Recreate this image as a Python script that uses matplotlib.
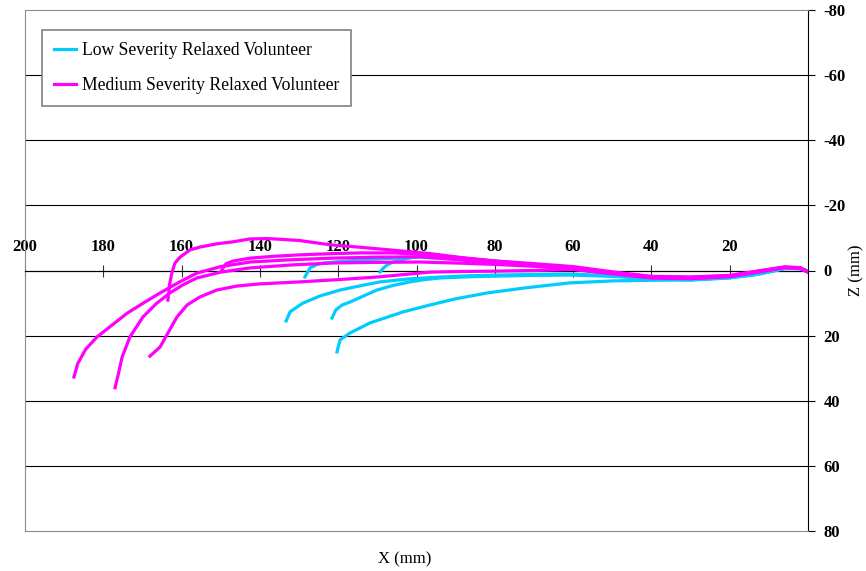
import matplotlib
matplotlib.use("Agg")
import matplotlib.pyplot as plt

plt.rcParams["font.family"] = ["Liberation Serif", "DejaVu Serif"]
plt.rcParams["axes.unicode_minus"] = False

# Head trajectories, X (mm) vs Z (mm)
# Low severity runs
low_1_x = [133.3, 132.3, 130.5, 129, 124.6, 119.5, 114, 109.3, 102, 94, 86, 78.7, 70, 60.8, 50, 40.4, 30, 20, 12, 6, 2, 0]
low_1_z = [15.5, 12.7, 11.2, 10, 7.8, 6, 4.6, 3.5, 2.6, 2.0, 1.6, 1.4, 1.2, 1.1, 1.6, 2.4, 2.7, 2.2, 0.9, -0.6, -0.6, 0.3]
low_2_x = [121.6, 120.6, 119, 117, 113.5, 110.1, 106, 101.7, 98, 94, 86, 78.7, 70, 60, 50, 40, 30, 20, 12, 6, 2, 0]
low_2_z = [14.6, 12.1, 10.6, 9.7, 7.8, 6, 4.6, 3.5, 2.8, 2.3, 1.9, 1.7, 1.5, 1.4, 1.8, 2.6, 2.9, 2.3, 1.0, -0.6, -0.6, 0.3]
low_3_x = [120.3, 119.9, 119.5, 117, 111.9, 103.4, 96.6, 90, 82, 72, 60.8, 50, 39.6, 30, 22.5, 14, 8, 5.4, 2, 0]
low_3_z = [25, 23, 21.3, 19.2, 16.1, 12.7, 10.6, 8.7, 6.9, 5.3, 3.8, 3.2, 3.0, 2.9, 2.4, 1.4, -0.2, -0.8, -0.6, 0.2]
low_4_x = [128.5, 127.8, 127.2, 125.5, 123.9, 119, 114.4, 107, 99.1, 90, 80.5, 70, 60, 50, 40, 30, 20, 12, 6, 2, 0]
low_4_z = [2, 0.5, -0.8, -1.8, -2.3, -2.8, -3.2, -3.7, -4.1, -3.5, -2.6, -1.6, -0.5, 1.0, 2.5, 2.8, 2.1, 0.8, -0.7, -0.6, 0.3]
low_5_x = [109.3, 108.5, 107.5, 106, 104.2, 100.5, 96.6, 90, 80.5, 70, 60, 50, 40, 30, 20, 12, 6, 2, 0]
low_5_z = [0.5, -0.7, -1.7, -2.6, -3.2, -4.2, -4.8, -4.0, -2.9, -1.8, -0.6, 0.9, 2.4, 2.7, 2.0, 0.7, -0.7, -0.6, 0.3]

# Medium severity runs
med_1_x = [187.5, 186.5, 184.5, 181.6, 177.5, 173.9, 169.5, 165.5, 160.5, 156.1, 150, 142.5, 132, 121.3, 110, 99.1, 90, 80.5, 70, 60, 50, 40, 30, 20, 12, 6, 2, 0]
med_1_z = [32.7, 28.5, 24.2, 20.4, 16.5, 13.1, 9.8, 6.9, 3.5, 0.8, -1.2, -2.6, -3.3, -3.8, -4.1, -4.2, -3.4, -2.4, -1.6, -0.7, 0.7, 1.9, 2.1, 1.6, 0.1, -1.0, -0.8, 0.4]
med_2_x = [177, 176, 175.2, 173.2, 169.9, 166.5, 163, 159.5, 156.1, 150, 142.5, 132, 121.3, 110, 99.1, 90, 80.5, 70, 60, 50, 40, 30, 20, 12, 6, 2, 0]
med_2_z = [36, 31, 26.6, 20.4, 14.3, 10.2, 6.9, 4.3, 2.3, 0.5, -0.8, -1.7, -2.3, -2.5, -2.6, -2.3, -1.9, -1.3, -0.4, 0.9, 2.2, 2.4, 1.9, 0.3, -0.9, -0.7, 0.5]
med_3_x = [168.1, 165.5, 163.5, 161.2, 158.6, 155.3, 151, 146, 140, 129.8, 120, 110, 96.6, 88, 80.5, 70, 60, 50, 40, 30, 20, 12, 6, 2, 0]
med_3_z = [26.3, 23.5, 19.2, 14.3, 10.6, 8.1, 6, 4.8, 4.1, 3.5, 2.8, 2.0, 0.5, 0.3, 0.2, 0, -0.3, 1.0, 2.3, 2.5, 1.8, 0.3, -0.9, -0.6, 0.5]
med_4_x = [163.5, 163, 162.5, 161.7, 160.4, 157.9, 155.3, 151, 146.9, 142.5, 138, 134.9, 129.8, 122.1, 115, 109.3, 103, 96.6, 88, 80.5, 70, 60, 50, 40, 30, 20, 12, 6, 2, 0]
med_4_z = [9.1, 3.8, 0.8, -2.3, -4.1, -6.3, -7.2, -8.2, -8.8, -9.7, -9.8, -9.6, -9.2, -7.9, -7.2, -6.6, -5.9, -5.2, -3.9, -3.0, -2.1, -1.2, 0.4, 1.8, 2.0, 1.5, 0.0, -1.1, -0.9, 0.5]
med_5_x = [149.7, 148.7, 146.9, 142.5, 136, 129.8, 121.3, 114.4, 106, 99.1, 90, 80.5, 70, 60, 50, 40, 30, 20, 12, 6, 2, 0]
med_5_z = [-0.2, -2.0, -2.9, -3.8, -4.4, -4.8, -5.2, -5.4, -5.4, -5.0, -4.0, -2.9, -1.9, -0.9, 0.6, 2.0, 2.2, 1.7, 0.1, -1.0, -0.8, 0.5]

low_runs = [(low_1_x, low_1_z), (low_2_x, low_2_z), (low_3_x, low_3_z),
            (low_4_x, low_4_z), (low_5_x, low_5_z)]
med_runs = [(med_1_x, med_1_z), (med_2_x, med_2_z), (med_3_x, med_3_z),
            (med_4_x, med_4_z), (med_5_x, med_5_z)]

z_ticks = [-80, -60, -40, -20, 0, 20, 40, 60, 80]
x_ticks = [200, 180, 160, 140, 120, 100, 80, 60, 40, 20]

fig = plt.figure(figsize=(8.66, 5.71), dpi=100)
ax = fig.add_axes([25 / 866, 40 / 571, 783 / 866, 521 / 571])

for z in z_ticks[1:-1]:
    ax.axhline(z, color="black", lw=0.8, zorder=1)

handles = []
for i, (x, z) in enumerate(low_runs):
    ln, = ax.plot(x, z, color="#00CCFF", lw=2.3, zorder=3,
                  solid_joinstyle="round")
    if i == 0:
        handles.append(ln)
for i, (x, z) in enumerate(med_runs):
    ln, = ax.plot(x, z, color="#FF00FF", lw=2.3, zorder=4,
                  solid_joinstyle="round")
    if i == 0:
        handles.append(ln)

ax.set_xlim(200, 0)
ax.set_ylim(80, -80)

# x axis sits on Z = 0 with labels above it
ax.set_xticks(x_ticks)
ax.xaxis.tick_top()
ax.spines["top"].set_position(("data", 0))
ax.spines["top"].set_color("black")
ax.spines["top"].set_linewidth(0.8)
ax.tick_params(axis="x", direction="inout", length=8.5, width=0.8,
               color="#333333", pad=7, labelsize=12)
for lbl in ax.get_xticklabels():
    lbl.set_fontweight("bold")

# Z axis on the right
ax.set_yticks(z_ticks)
ax.yaxis.tick_right()
ax.tick_params(axis="y", direction="out", length=5, width=0.8, pad=6,
               labelsize=12)
for lbl in ax.get_yticklabels():
    lbl.set_fontweight("bold")

ax.spines["right"].set_color("black")
ax.spines["right"].set_linewidth(0.8)
for side in ["left", "bottom"]:
    ax.spines[side].set_color("#8c8c8c")
    ax.spines[side].set_linewidth(0.8)
# plot area top edge
ax.plot([0, 1], [1, 1], transform=ax.transAxes, color="#8c8c8c", lw=0.8,
        clip_on=False, zorder=5)

ax.set_xlabel("X (mm)", fontsize=12)
ax.xaxis.set_label_position("bottom")
ax.xaxis.set_label_coords(0.485, -0.04)
ax.set_ylabel("Z (mm)", fontsize=12)
ax.yaxis.set_label_position("right")
ax.yaxis.set_label_coords(1.051, 0.5)

leg = ax.legend(handles, ["Low Severity Relaxed Volunteer",
                          "Medium Severity Relaxed Volunteer"],
                loc="upper left", bbox_to_anchor=(0.0217, 0.9616),
                borderaxespad=0, fontsize=12.7, fancybox=False,
                edgecolor="#808080", framealpha=1, labelspacing=1.0,
                handlelength=1.25, handletextpad=0.3, borderpad=0.7)
leg.get_frame().set_linewidth(1.2)
leg.set_zorder(6)

fig.savefig("out.png", dpi=100)
